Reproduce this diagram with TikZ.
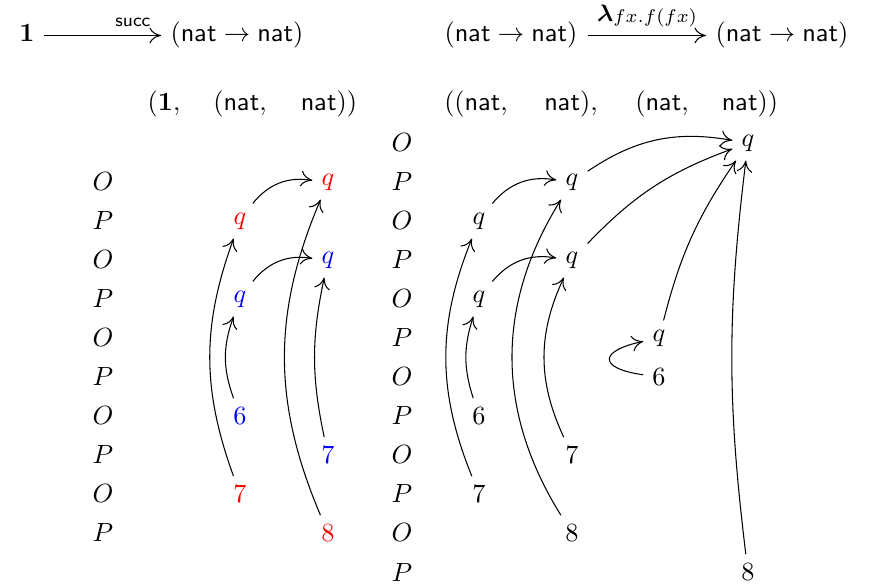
\documentclass[tikz,border=0pt]{standalone}
\usepackage{amsmath}
\usetikzlibrary{arrows.meta}
\begin{document}
\begin{tikzpicture}[x=0.3800pt,y=-0.3800pt,>={To[length=4.4pt,width=6pt]},
  hd/.style={anchor=base,inner sep=0pt},
  rd/.style={text=red},
  bl/.style={text=blue}]
\useasboundingbox (0,0) rectangle (873,585);
% headers
\node[hd] (one) at (27,42) {$\mathbf{1}$};
\node[hd] (nnA) at (237,42) {$(\mathsf{nat}\to\mathsf{nat})$};
\draw[->] ([shift={(9,-6.5)}]one.base east) -- ([shift={(-9,-6.5)}]nnA.base west)
  node[pos=0.76,anchor=base,yshift=3.3pt,inner sep=0pt] (succ) {$\scriptstyle\mathsf{succ}$};
\node[hd] (nnB) at (511,42) {$(\mathsf{nat}\to\mathsf{nat})$};
\node[hd] (nnC) at (782,42) {$(\mathsf{nat}\to\mathsf{nat})$};
\draw[->] ([shift={(10,-6.5)}]nnB.base east) -- ([shift={(-9,-6.5)}]nnC.base west)
  node[midway,anchor=base,yshift=5.2pt,inner sep=0pt] (lam) {{\fontsize{9}{10}\selectfont$\boldsymbol{\lambda}$}\raisebox{-0.3pt}{\fontsize{7}{8}\selectfont$fx.f(fx)$}};
% second line
\node[hd] (t1) at (164,111) {$(\mathbf{1},$};
\node[hd] (t2) at (240,111) {$(\mathsf{nat},$};
\node[hd] (t3) at (329,111) {$\mathsf{nat}))$};
\node[hd] (u1) at (476,111) {$((\mathsf{nat},$};
\node[hd] (u2) at (571,111) {$\mathsf{nat}),$};
\node[hd] (u3) at (662,111) {$(\mathsf{nat},$};
\node[hd] (u4) at (750,111) {$\mathsf{nat}))$};
% O/P columns
\foreach \r/\l in {1/O,2/P,3/O,4/P,5/O,6/P,7/O,8/P,9/O,10/P}
  \node (lop\r) at (103,143+39*\r) {$\l$};
\foreach \r/\l in {0/O,1/P,2/O,3/P,4/O,5/P,6/O,7/P,8/O,9/P,10/O,11/P}
  \node (rop\r) at (402,143+39*\r) {$\l$};
% left game
\node[rd] (lq1) at (328,182) {$q$};
\node[rd] (lq2) at (240,221) {$q$};
\node[bl] (lq3) at (328,260) {$q$};
\node[bl] (lq4) at (240,299) {$q$};
\node[bl] (l6b) at (240,416) {$6$};
\node[bl] (l7b) at (328,455) {$7$};
\node[rd] (l7r) at (240,494) {$7$};
\node[rd] (l8r) at (328,533) {$8$};
\draw[->] (lq2) to[bend left=30] (lq1);
\draw[->] (l7r) to[bend left=20] (lq2);
\draw[->] (lq4) to[bend left=30] (lq3);
\draw[->] (l6b) to[bend left=20] (lq4);
\draw[->] (l7b) to[bend left=12] (lq3);
\draw[->] (l8r) to[bend left=23] (lq1);
% right game
\node (rq0) at (748,143) {$q$};
\node (rq1) at (572,182) {$q$};
\node (rq2) at (479,221) {$q$};
\node (rq3) at (572,260) {$q$};
\node (rq4) at (479,299) {$q$};
\node (rq5) at (659,338) {$q$};
\node (r6b) at (659,377) {$6$};
\node (r6a) at (479,416) {$6$};
\node (r7b) at (572,455) {$7$};
\node (r7a) at (479,494) {$7$};
\node (r8a) at (572,533) {$8$};
\node (r8b) at (748,572) {$8$};
\draw[->] (rq2) to[bend left=30] (rq1);
\draw[->] (rq4) to[bend left=30] (rq3);
\draw[->] (r6a) to[bend left=18] (rq4);
\draw[->] (r7a) to[bend left=22] (rq2);
\draw[->] (r7b) to[bend left=25] (rq3);
\draw[->] (r8a) to[bend left=32] (rq1);
\draw[->] (rq1) to[bend left=22] (rq0);
\draw[->] (rq3) to[bend left=13] (rq0);
\draw[->] (rq5) to[bend left=10] (rq0);
\draw[->] (r8b) to[bend left=7] (rq0);
\draw[->] (r6b) to[out=172,in=192,looseness=3.5] (rq5);
\end{tikzpicture}
\end{document}
